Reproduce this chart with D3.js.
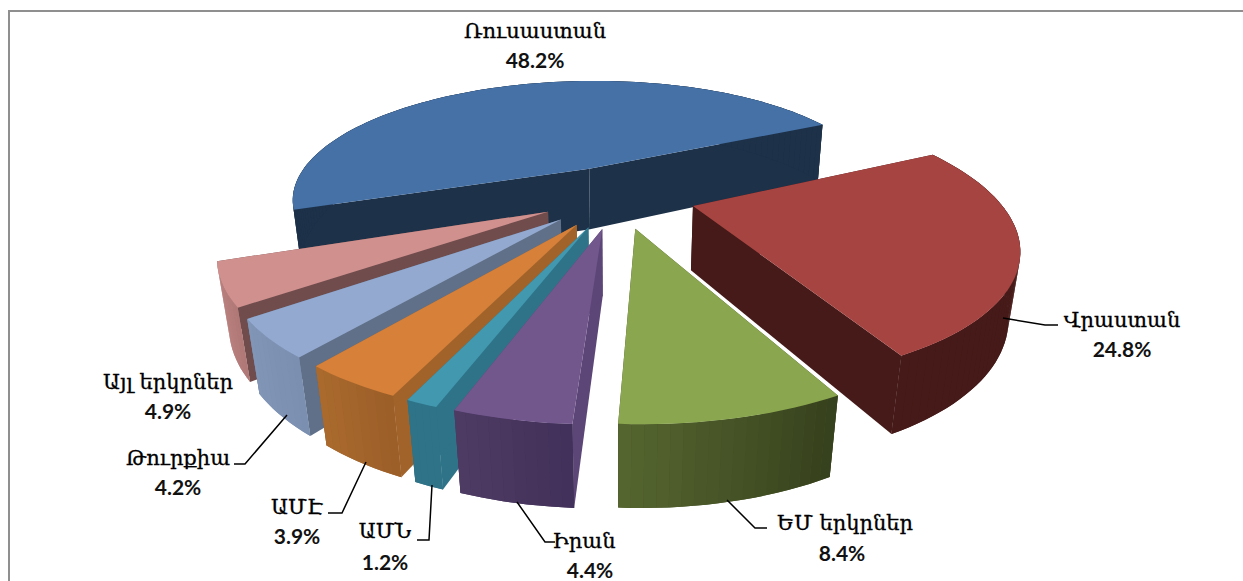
<!DOCTYPE html>
<html>
<head>
<meta charset="utf-8">
<script src="https://cdn.jsdelivr.net/npm/d3@7"></script>
<style>
    html, body { margin: 0; padding: 0; background: #fff; overflow: hidden; }
    .name { font-family: "DejaVu Serif", serif; font-size: 21px; font-weight: 400; fill: #000; stroke: #000; stroke-width: 0.3; text-anchor: middle; }
    .pct { font-family: Lato, "Open Sans", sans-serif; font-size: 21px; font-weight: 700; fill: #111; text-anchor: middle; }
</style>
</head>
<body>
<svg id="mainSvg" width="1243" height="581"></svg>
<script>
const countries = ["Ռուսաստան", "Վրաստան", "ԵՄ երկրներ", "Իրան", "ԱՄՆ", "ԱՄԷ", "Թուրքիա", "Այլ երկրներ"];
const shares = [48.2, 24.8, 8.4, 4.4, 1.2, 3.9, 4.2, 4.9];

// top face, radial wall, outer wall (two ends of the shading)
const topColors = ["#4571a6", "#a64442", "#8aa64e", "#72578d", "#4198af", "#d6803a", "#93a9cf", "#cf908e"];
const wallColors = ["#1d3149", "#451a18", "#3f4a23", "#5c4677", "#2f7388", "#a1632a", "#5f7088", "#704c4c"];
const outerA = ["#1d3149", "#451a18", "#55652f", "#4e3b63", "#2f7388", "#aa6a2e", "#8195b6", "#bd8583"];
const outerB = ["#1d3149", "#471b19", "#36411d", "#42315a", "#2f7388", "#9c5f28", "#7b8fb0", "#b07876"];

// label layout: name centre, leader polyline
const labelPos = [[535, 38], [1122, 327], [845, 530], [584, 548], [385, 538], [297, 514], [178, 465], [168, 389]];
const pctPos = [[535, 68], [1122, 357], [842, 561], [590, 578], [385, 570], [297, 544], [178, 495], [168, 419]];
const leaders = [
    null,
    [[1003, 318], [1045, 325], [1058, 325]],
    [[727, 500], [755, 528], [767, 528]],
    [[517, 502], [545, 542], [555, 542]],
    [[432, 485], [429, 540], [417, 540]],
    [[366, 462], [342, 513], [328, 513]],
    [[287, 415], [245, 464], [234, 464]],
    null
];

// camera
const centerX = 618, centerY = 196;
const radius = 303, explode = 0.255, thickness = 0.235;
const tilt = 24 * Math.PI / 180, persp = 0.285;
const firstAngle = -110 * Math.PI / 180;

function project(x, y, z) {
    let depth = y * Math.cos(tilt) + z * Math.sin(tilt);
    let up = -y * Math.sin(tilt) + z * Math.cos(tilt);
    let w = 1 - persp * depth;
    return [centerX + radius * x / w, centerY - radius * up / w];
}

function initMainSvg() {
    let canvas = d3.select("#mainSvg");
    let line = d3.line();
    let pie = d3.pie().sort(null).startAngle(firstAngle).endAngle(firstAngle + 2 * Math.PI);
    let slices = pie(shares).map((d, i) => {
        let mid = (d.startAngle + d.endAngle) / 2;
        return {
            i: i,
            a0: d.startAngle,
            a1: d.endAngle,
            ox: explode * Math.sin(mid),
            oy: -explode * Math.cos(mid)
        };
    });

    // back slices first
    slices.sort((a, b) => a.oy - b.oy);

    slices.forEach(s => {
        let g = canvas.append("g");
        let pt = (r, a, z) => project(s.ox + r * Math.sin(a), s.oy - r * Math.cos(a), z);
        let steps = Math.max(4, Math.ceil((s.a1 - s.a0) / 0.03));
        let angles = d3.range(steps + 1).map(k => s.a0 + (s.a1 - s.a0) * k / steps);

        // radial walls
        [s.a0, s.a1].forEach(a => {
            let quad = [pt(0, a, 0), pt(1, a, 0), pt(1, a, -thickness), pt(0, a, -thickness)];
            g.append("path").attr("d", line(quad) + "Z")
                .attr("fill", wallColors[s.i]);
        });

        // outer wall: solid base, then shaded strips on it
        let shade = d3.interpolateRgb(outerB[s.i], outerA[s.i]);
        let base = angles.map(a => pt(1, a, 0)).concat(angles.slice().reverse().map(a => pt(1, a, -thickness)));
        g.append("path").attr("d", line(base) + "Z").attr("fill", shade(0.5));
        g.selectAll("path.outer")
            .data(d3.pairs(angles))
            .enter()
                .append("path")
                .attr("class", "outer")
                .attr("d", d => line([pt(1, d[0], 0), pt(1, d[1], 0), pt(1, d[1], -thickness), pt(1, d[0], -thickness)]) + "Z")
                .attr("fill", (d, k) => shade(k / (steps - 1)));

        // top face
        let face = [pt(0, s.a0, 0)].concat(angles.map(a => pt(1, a, 0)));
        g.append("path").attr("d", line(face) + "Z").attr("fill", topColors[s.i]);
    });

    // chart frame
    canvas.append("path").attr("d", "M9,581V11H1243")
        .attr("fill", "none").attr("stroke", "#8f8f8f").attr("stroke-width", 2);

    canvas.selectAll("path.leader")
        .data(leaders.filter(d => d))
        .enter()
            .append("path")
            .attr("class", "leader")
            .attr("d", d => line(d))
            .attr("fill", "none")
            .attr("stroke", "#000")
            .attr("stroke-width", 1.5);

    canvas.selectAll("text.name")
        .data(countries)
        .enter()
            .append("text")
            .attr("class", "name")
            .attr("x", (d, i) => labelPos[i][0])
            .attr("y", (d, i) => labelPos[i][1])
            .text(d => d);

    canvas.selectAll("text.pct")
        .data(shares)
        .enter()
            .append("text")
            .attr("class", "pct")
            .attr("x", (d, i) => pctPos[i][0])
            .attr("y", (d, i) => pctPos[i][1])
            .text(d => d.toFixed(1) + "%");
}

initMainSvg();
</script>
</body>
</html>
